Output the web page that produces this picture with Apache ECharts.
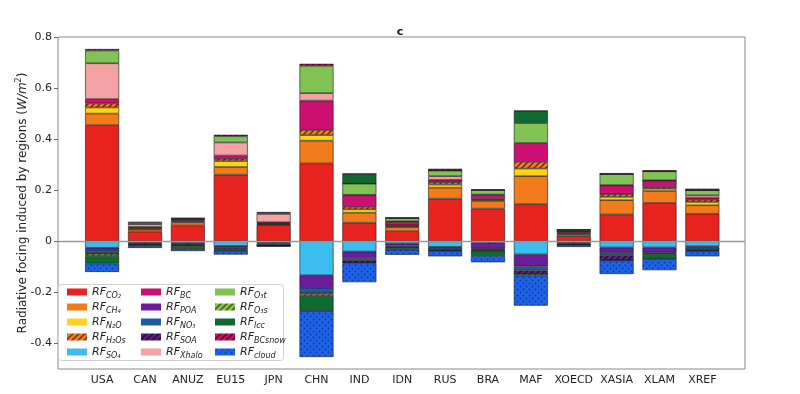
<!DOCTYPE html>
<html>
<head>
<meta charset="utf-8">
<script src="https://cdn.jsdelivr.net/npm/echarts@6/dist/echarts.min.js"></script>
<style>html,body{margin:0;padding:0;background:#fff}#c{width:800px;height:394px}</style>
</head>
<body>
<div id="c"></div>
<script>
// ---------- data ----------
const categories = ['USA','CAN','ANUZ','EU15','JPN','CHN','IND','IDN','RUS','BRA','MAF','XOECD','XASIA','XLAM','XREF'];
const yTicks = [-0.4, -0.2, 0, 0.2, 0.4, 0.6, 0.8];
//                USA     CAN     ANUZ    EU15    JPN     CHN     IND     IDN     RUS     BRA     MAF     XOECD   XASIA   XLAM    XREF
const rfCO2    = [0.455,  0.038,  0.062,  0.261,  0.063,  0.305,  0.073,  0.040,  0.167,  0.128,  0.145,  0.020,  0.105,  0.150,  0.108];
const rfCH4    = [0.045,  0.008,  0.012,  0.030,  0.003,  0.089,  0.039,  0.015,  0.043,  0.030,  0.110,  0.008,  0.056,  0.047,  0.033];
const rfN2O    = [0.024,  0.003,  0.004,  0.023,  0.002,  0.022,  0.013,  0.004,  0.012,  0.004,  0.030,  0.003,  0.013,  0.009,  0.013];
const rfH2Os   = [0.016,  0.004,  0.003,  0.009,  0.003,  0.020,  0.010,  0.004,  0.009,  0.004,  0.026,  0.003,  0.010,  0.006,  0.009];
const rfSO4    = [-0.025, -0.004, -0.006, -0.018, -0.005, -0.133, -0.040, -0.008, -0.022, -0.004, -0.051, -0.004, -0.024, -0.024, -0.019];
const rfBC     = [0.017,  0.004,  0.004,  0.013,  0.004,  0.115,  0.045,  0.013,  0.010,  0.015,  0.074,  0.004,  0.035,  0.026,  0.008];
const rfPOA    = [-0.008, -0.003, -0.004, -0.005, -0.003, -0.049, -0.026, -0.008, -0.003, -0.025, -0.047, -0.004, -0.020, -0.020, -0.006];
const rfNO3    = [-0.012, -0.004, -0.004, -0.006, -0.007, -0.016, -0.010, -0.006, -0.008, -0.004, -0.016, -0.004, -0.010, -0.004, -0.010];
const rfSOA    = [-0.004, -0.002, -0.002, -0.003, -0.001, -0.008, -0.010, -0.004, -0.003, -0.004, -0.014, -0.001, -0.020, -0.002, -0.002];
const rfXhalo  = [0.140,  0.010,  0.002,  0.051,  0.032,  0.029,  0.002,  0.002,  0.014,  0.002,  0.000,  0.001,  0.001,  0.001,  0.009];
const rfO3t    = [0.050,  0.006,  0.003,  0.024,  0.005,  0.107,  0.044,  0.013,  0.022,  0.018,  0.078,  0.006,  0.043,  0.035,  0.020];
const rfO3s    = [-0.008, -0.002, -0.002, -0.004, -0.001, -0.008, 0.000,  0.000,  0.000,  0.000,  -0.006, 0.000,  0.000,  0.000,  0.000];
const rfLcc    = [-0.030, -0.004, -0.011, -0.003, -0.001, -0.058, 0.038,  -0.007, -0.001, -0.020, 0.047,  -0.002, -0.001, -0.020, -0.002];
const rfBCsnow = [0.006,  0.003,  0.001,  0.006,  0.002,  0.008,  0.000,  0.002,  0.007,  0.002,  0.001,  0.001,  0.004,  0.004,  0.006];
const rfCloud  = [-0.033, -0.007, -0.009, -0.013, -0.003, -0.181, -0.074, -0.020, -0.022, -0.025, -0.118, -0.007, -0.053, -0.043, -0.020];

// ---------- styles ----------
function hatch(base, line) {
  const c = document.createElement('canvas'); c.width = 6; c.height = 6;
  const g = c.getContext('2d');
  g.fillStyle = base; g.fillRect(0, 0, 6, 6);
  g.strokeStyle = line; g.lineWidth = 1.3;
  g.beginPath();
  g.moveTo(-1, 7); g.lineTo(7, -1);
  g.moveTo(-4, 4); g.lineTo(4, -4);
  g.moveTo(2, 10); g.lineTo(10, 2);
  g.stroke();
  return { image: c, repeat: 'repeat' };
}
function dots(base, dot) {
  const c = document.createElement('canvas'); c.width = 6; c.height = 6;
  const g = c.getContext('2d');
  g.fillStyle = base; g.fillRect(0, 0, 6, 6);
  g.fillStyle = dot;
  g.beginPath(); g.arc(1.5, 1.5, 0.9, 0, Math.PI * 2); g.fill();
  g.beginPath(); g.arc(4.5, 4.5, 0.9, 0, Math.PI * 2); g.fill();
  return { image: c, repeat: 'repeat' };
}

const defs = [
  { name: 'CO2',    sub: 'CO₂',    values: rfCO2,    fill: '#e8231f' },
  { name: 'CH4',    sub: 'CH₄',    values: rfCH4,    fill: '#f27b1c' },
  { name: 'N2O',    sub: 'N₂O',    values: rfN2O,    fill: '#fdd21a' },
  { name: 'H2Os',   sub: 'H₂Os',   values: rfH2Os,   fill: hatch('#f07f20', '#5a260a') },
  { name: 'SO4',    sub: 'SO₄',    values: rfSO4,    fill: '#3cbdef' },
  { name: 'BC',     sub: 'BC',     values: rfBC,     fill: '#cc0f70' },
  { name: 'POA',    sub: 'POA',    values: rfPOA,    fill: '#6a1c9a' },
  { name: 'NO3',    sub: 'NO₃',    values: rfNO3,    fill: '#2259a8' },
  { name: 'SOA',    sub: 'SOA',    values: rfSOA,    fill: hatch('#5a2386', '#1c0a2e') },
  { name: 'Xhalo',  sub: 'Xhalo',  values: rfXhalo,  fill: '#f4a2a5' },
  { name: 'O3t',    sub: 'O₃t',    values: rfO3t,    fill: '#82c355' },
  { name: 'O3s',    sub: 'O₃s',    values: rfO3s,    fill: hatch('#8cc64c', '#2c4a10') },
  { name: 'lcc',    sub: 'lcc',    values: rfLcc,    fill: '#0d6b30' },
  { name: 'BCsnow', sub: 'BCsnow', values: rfBCsnow, fill: hatch('#c8145f', '#4a0420') },
  { name: 'cloud',  sub: 'cloud',  values: rfCloud,  fill: dots('#1f63e8', '#0c3a9e') }
];
const subOf = {};
defs.forEach(d => { subOf[d.name] = d.sub; });

const series = defs.map(d => ({
  name: d.name,
  type: 'bar',
  stack: 'all',
  xAxisIndex: 1, yAxisIndex: 1,
  barWidth: 34,
  z: 3,
  itemStyle: { color: d.fill, borderColor: '#1a1a1a', borderWidth: 0.6 },
  emphasis: { disabled: true },
  data: d.values
}));
series.push({
  type: 'line', name: '_zero', data: [], silent: true, z: 1,
  xAxisIndex: 0, yAxisIndex: 0,
  markLine: {
    silent: true, symbol: 'none', animation: false,
    label: { show: false },
    lineStyle: { color: '#999', width: 1.3, type: 'solid' },
    data: [{ yAxis: 0 }]
  }
});

const chart = echarts.init(document.getElementById('c'), null, { renderer: 'canvas' });
const FONT = 'DejaVu Sans';
const yMin = -0.5, yMax = 0.8;
chart.setOption({
  animation: false,
  backgroundColor: '#fff',
  textStyle: { fontFamily: FONT },
  title: {
    text: 'c', left: 'center', top: 22,
    textStyle: { fontFamily: FONT, fontSize: 11, fontWeight: 'bold', color: '#111' }
  },
  grid: [
    { left: 58, right: 55, top: 37, bottom: 25, show: true, borderColor: '#8a8a8a', borderWidth: 1, backgroundColor: 'transparent' },
    { left: 80.7, right: 76.2, top: 37, bottom: 25, show: false }
  ],
  xAxis: [
    { gridIndex: 0, type: 'value', min: 0, max: 1, show: false },
    {
      gridIndex: 1, type: 'category', data: categories, boundaryGap: true,
      axisLine: { show: false },
      splitLine: { show: false },
      axisTick: { show: true, alignWithLabel: true, length: 4, lineStyle: { color: '#666' } },
      axisLabel: { fontFamily: FONT, fontSize: 11, color: '#222', margin: 6, interval: 0 }
    }
  ],
  yAxis: [
    {
      gridIndex: 0, type: 'value', min: yMin, max: yMax,
      axisLine: { show: false },
      splitLine: { show: false },
      axisTick: { show: true, length: 4, lineStyle: { color: '#666' }, customValues: yTicks },
      axisLabel: {
        fontFamily: FONT, fontSize: 11, color: '#222', margin: 6,
        customValues: yTicks,
        formatter: v => (Math.abs(v) < 1e-9 ? '0' : v.toFixed(1))
      },
      name: 'Radiative focing induced by regions ({i|W/m}{p|2})',
      nameLocation: 'middle', nameRotate: 90, nameGap: 28,
      nameMoveOverlap: false,
      nameTextStyle: {
        fontFamily: FONT, fontSize: 12, color: '#222', lineHeight: 15,
        rich: {
          i: { fontFamily: FONT, fontSize: 12, fontStyle: 'italic', color: '#222', lineHeight: 15 },
          p: { fontFamily: FONT, fontSize: 8, color: '#222', verticalAlign: 'top', lineHeight: 9 }
        }
      }
    },
    { gridIndex: 1, type: 'value', min: yMin, max: yMax, show: false, splitLine: { show: false } }
  ],
  graphic: [{
    type: 'rect', z: 3,
    shape: { x: 58.5, y: 284.5, width: 225, height: 76, r: 3 },
    style: { fill: 'rgba(255,255,255,0.9)', stroke: '#cfcfcf', lineWidth: 1 }
  }],
  legend: {
    data: defs.map(d => d.name),
    orient: 'vertical',
    left: 67, top: 284.5, height: 77,
    padding: 0, itemGap: 0,
    itemWidth: 20, itemHeight: 7,
    icon: 'rect',
    selectedMode: false,
    z: 5,
    itemStyle: { borderWidth: 0 },
    formatter: name => '{r|RF}{s|' + subOf[name] + '}',
    textStyle: {
      width: 49, lineHeight: 15, color: '#222',
      rich: {
        r: { fontFamily: FONT, fontSize: 11, fontStyle: 'italic', color: '#222', lineHeight: 15 },
        s: { fontFamily: FONT, fontSize: 8, fontStyle: 'italic', color: '#222', verticalAlign: 'bottom', lineHeight: 9 }
      }
    }
  },
  series: series
});
</script>
</body>
</html>
